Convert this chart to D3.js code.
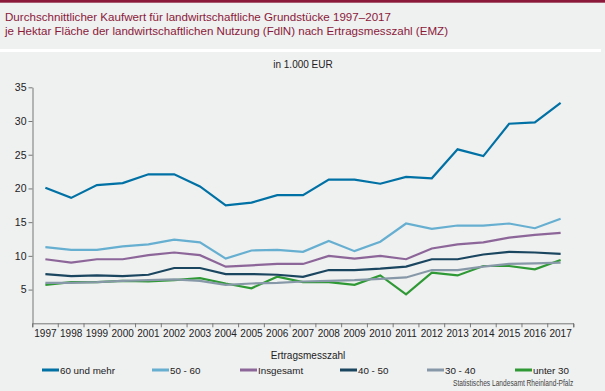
<!DOCTYPE html>
<html lang="de">
  <head>
    <meta charset="UTF-8" />
    <title>Kaufwert landwirtschaftliche Grundstücke</title>
    <style>
      body { margin: 0; background: #eff0f0; }
      text { font-family: "Liberation Sans", Arial, sans-serif; fill: #222; }
      .title { fill: #8b1a3a; font-size: 11.5px; }
      .axis path, .axis line { stroke: #777; }
      .axis text { font-size: 11px; fill: #222; }
      .data-line { fill: none; stroke-width: 2.2px; }
      .legend text { font-size: 9.8px; }
    </style>
  </head>
  <body>
    <script src="https://cdn.jsdelivr.net/npm/d3@7"></script>
    <script>

      var years = ["1997","1998","1999","2000","2001","2002","2003","2004","2005","2006","2007",
                   "2008","2009","2010","2011","2012","2013","2014","2015","2016","2017"];

      var yTicks = [5, 10, 15, 20, 25, 30, 35];

      var seriesNames = ["60 und mehr", "50 - 60", "Insgesamt", "40 - 50", "30 - 40", "unter 30"];
      var seriesColors = ["#0071a4", "#66afd1", "#8d6699", "#1b4660", "#8799a8", "#2f9a35"];

      var emz60 = [20.1, 18.6, 20.5, 20.8, 22.1, 22.1, 20.3, 17.5, 17.9, 19.0, 19.0,
                   21.3, 21.3, 20.7, 21.7, 21.5, 25.8, 24.8, 29.6, 29.8, 32.7];
      var emz50 = [11.3, 10.9, 10.9, 11.4, 11.7, 12.4, 12.0, 9.6, 10.8, 10.9, 10.6,
                   12.2, 10.7, 12.1, 14.8, 14.0, 14.5, 14.5, 14.8, 14.1, 15.5];
      var gesamt = [9.5, 9.0, 9.5, 9.5, 10.1, 10.5, 10.1, 8.4, 8.6, 8.8, 8.8,
                    10.0, 9.6, 10.0, 9.5, 11.1, 11.7, 12.0, 12.7, 13.1, 13.4];
      var emz40 = [7.3, 7.0, 7.1, 7.0, 7.2, 8.2, 8.2, 7.3, 7.3, 7.2, 6.9,
                   7.9, 7.9, 8.1, 8.4, 9.5, 9.5, 10.2, 10.6, 10.5, 10.3];
      var emz30 = [6.0, 6.0, 6.1, 6.3, 6.4, 6.5, 6.3, 5.7, 5.9, 6.0, 6.2,
                   6.3, 6.4, 6.6, 6.8, 7.9, 7.9, 8.4, 8.8, 8.9, 9.0];
      var unter30 = [5.7, 6.1, 6.1, 6.3, 6.2, 6.4, 6.7, 5.9, 5.2, 6.9, 6.1,
                     6.1, 5.7, 7.1, 4.3, 7.5, 7.1, 8.5, 8.5, 8.0, 9.4];

      var allSeries = [emz60, emz50, gesamt, emz40, emz30, unter30];

      var w = 605, h = 391;
      var plot = { left: 32.5, right: 573.5, top: 87.3, bottom: 323.3 };

      var svg = d3.select("body").append("svg")
        .attr("width", w)
        .attr("height", h);

      // top band, stripe
      svg.append("rect").attr("x", 0).attr("y", 0).attr("width", w).attr("height", 2.7).attr("fill", "#8b1a3a");
      svg.append("rect").attr("x", 0).attr("y", 49).attr("width", 601).attr("height", 3).attr("fill", "#fff");

      svg.append("text").attr("class", "title").attr("x", 5).attr("y", 20.5)
        .attr("textLength", 386).attr("lengthAdjust", "spacingAndGlyphs")
        .text("Durchschnittlicher Kaufwert für landwirtschaftliche Grundstücke 1997–2017");
      svg.append("text").attr("class", "title").attr("x", 5).attr("y", 34.5)
        .attr("textLength", 443).attr("lengthAdjust", "spacingAndGlyphs")
        .text("je Hektar Fläche der landwirtschaftlichen Nutzung (FdlN) nach Ertragsmesszahl (EMZ)");

      svg.append("text").attr("x", 303).attr("y", 68).attr("text-anchor", "middle")
        .style("font-size", "10px").text("in 1.000 EUR");

      var xScale = d3.scaleBand()
        .domain(years)
        .range([plot.left, plot.right]);

      var yScale = d3.scaleLinear()
        .domain([0, 35])
        .range([plot.bottom, plot.top]);

      var xAxis = d3.axisBottom(xScale).tickSize(4).tickSizeOuter(4);
      var gx = svg.append("g")
        .attr("class", "axis")
        .attr("transform", "translate(0," + plot.bottom + ")")
        .call(xAxis);
      // ticks sit on band edges, labels at band centres
      gx.selectAll(".tick line").attr("x1", -xScale.bandwidth() / 2).attr("x2", -xScale.bandwidth() / 2);
      gx.append("line").attr("x1", plot.right).attr("x2", plot.right).attr("y1", 0).attr("y2", 4).attr("stroke", "#777");
      gx.selectAll(".tick text").attr("y", 7).style("font-size", "10px");

      var yAxis = d3.axisLeft(yScale).tickValues(yTicks).tickSize(4).tickSizeOuter(0);
      var gy = svg.append("g")
        .attr("class", "axis")
        .attr("transform", "translate(" + plot.left + ",0)")
        .call(yAxis);
      gy.selectAll(".tick text").attr("x", -6).style("font-size", "10.5px");

      var line = d3.line()
        .x(function(d, i) { return xScale(years[i]) + xScale.bandwidth() / 2; })
        .y(function(d) { return yScale(d); });

      // draw bottom series first so the top ones overlap like the original
      for (var s = allSeries.length - 1; s >= 0; s--) {
        svg.append("path")
          .datum(allSeries[s])
          .attr("class", "data-line")
          .attr("stroke", seriesColors[s])
          .attr("d", line);
      }

      svg.append("text").attr("x", 308).attr("y", 359).attr("text-anchor", "middle")
        .style("font-size", "10px").text("Ertragsmesszahl");

      var legendX = [42, 152, 240, 340, 427, 515];
      var legend = svg.append("g").attr("class", "legend");
      seriesNames.forEach(function(name, i) {
        legend.append("line")
          .attr("x1", legendX[i]).attr("x2", legendX[i] + 17)
          .attr("y1", 370).attr("y2", 370)
          .attr("stroke", seriesColors[i]).attr("stroke-width", 3);
        legend.append("text")
          .attr("x", legendX[i] + 18).attr("y", 373.5)
          .text(name);
      });

      // source line, squeezed horizontally like the original
      svg.append("g")
        .attr("transform", "translate(453,386) scale(0.78,1)")
        .append("text")
        .style("font-size", "8.5px").style("fill", "#444")
        .text("Statistisches Landesamt Rheinland-Pfalz");

    </script>
  </body>
</html>
